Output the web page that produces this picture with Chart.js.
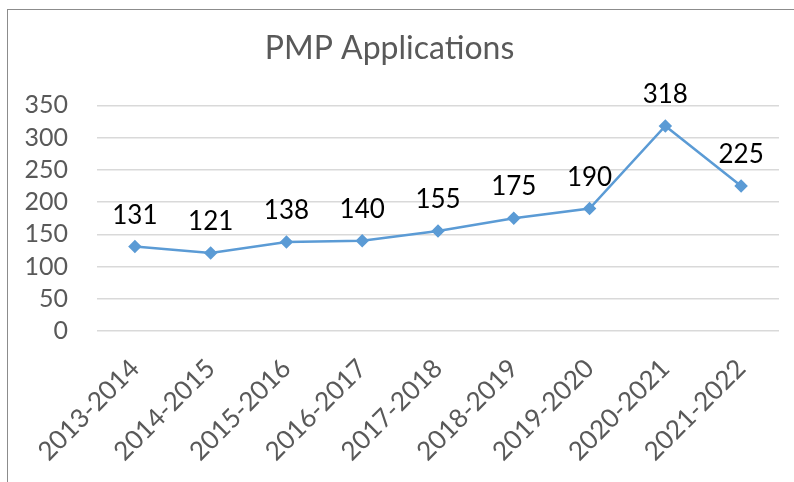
<!DOCTYPE html>
<html>
<head>
<meta charset="utf-8">
<script src="https://cdn.jsdelivr.net/npm/chart.js@4"></script>
<style>
  html, body { margin: 0; padding: 0; background: #fff; }
  #wrap { position: relative; width: 794px; height: 482px; }
  #frame {
    position: absolute; left: 7px; top: 9px; right: 0; bottom: 0;
    border-left: 1px solid #8c8c8c; border-top: 1px solid #8c8c8c;
    pointer-events: none;
  }
</style>
</head>
<body>
<div id="wrap">
  <canvas id="pmpChart" width="794" height="482"></canvas>
  <div id="frame"></div>
</div>
<script>
/* ======================
   DATA
====================== */
const years = ["2013-2014", "2014-2015", "2015-2016", "2016-2017", "2017-2018",
               "2018-2019", "2019-2020", "2020-2021", "2021-2022"];
const applications = [131, 121, 138, 140, 155, 175, 190, 318, 225];
const yTicks = [0, 50, 100, 150, 200, 250, 300, 350];

const FONT = "Lato, 'Open Sans', sans-serif";

/* labels above each point */
const pointLabels = {
  id: "pointLabels",
  afterDatasetsDraw(chart) {
    const ctx = chart.ctx;
    const meta = chart.getDatasetMeta(0);
    ctx.save();
    ctx.font = "26px " + FONT;
    ctx.fillStyle = "#000";
    ctx.textAlign = "center";
    ctx.textBaseline = "alphabetic";
    meta.data.forEach((pt, i) => {
      ctx.fillText(String(applications[i]), pt.x, pt.y - 23);
    });
    ctx.restore();
  }
};

const ctx1 = document.getElementById("pmpChart").getContext("2d");

new Chart(ctx1, {
  type: "line",
  data: {
    labels: years,
    datasets: [{
      label: "PMP Applications",
      data: applications,
      borderColor: "#5b9bd5",
      backgroundColor: "#5b9bd5",
      borderWidth: 2.5,
      pointStyle: "rectRot",
      pointRadius: 5,
      pointHoverRadius: 5,
      tension: 0
    }]
  },
  options: {
    responsive: false,
    animation: false,
    layout: { padding: { left: 0, right: 15, top: 0, bottom: 0 } },
    plugins: {
      legend: { display: false },
      tooltip: { enabled: false },
      title: {
        display: true,
        text: "PMP Applications",
        color: "#595959",
        font: { family: FONT, size: 32, weight: "normal" },
        padding: { top: 29, bottom: 38 }
      }
    },
    scales: {
      x: {
        offset: true,
        grid: { display: false, drawTicks: false },
        border: { display: false },
        afterFit: s => { s.height = 151; },
        ticks: {
          color: "#595959",
          font: { family: FONT, size: 26 },
          minRotation: 45,
          maxRotation: 45,
          padding: 22,
          autoSkip: false
        }
      },
      y: {
        min: 0,
        max: 350,
        afterFit: s => { s.width = 97; },
        afterBuildTicks: s => { s.ticks = yTicks.map(v => ({ value: v })); },
        grid: { color: "#d9d9d9", lineWidth: 1.5, drawTicks: false },
        border: { display: false },
        ticks: {
          color: "#595959",
          font: { family: FONT, size: 25 },
          padding: 29,
          autoSkip: false
        }
      }
    }
  },
  plugins: [pointLabels]
});
</script>
</body>
</html>
